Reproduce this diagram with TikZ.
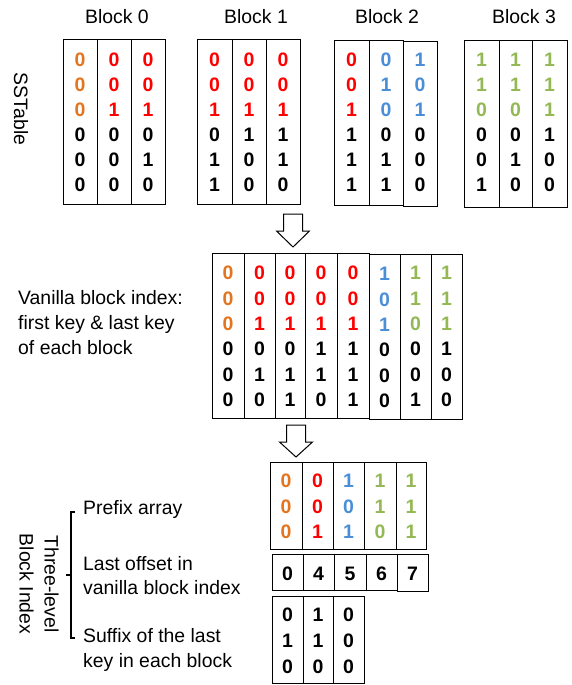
\documentclass[tikz,border=0pt]{standalone}
\usepackage{fontspec}
\setmainfont{Liberation Sans}

\definecolor{keyorange}{RGB}{228,117,30}
\definecolor{keyred}{RGB}{255,0,0}
\definecolor{keyblue}{RGB}{74,142,216}
\definecolor{keygreen}{RGB}{148,184,84}

\tikzset{
  bit/.style={font=\fontsize{19.5}{20}\selectfont\bfseries, inner sep=0pt},
  lbl/.style={font=\fontsize{19.4}{25}\selectfont, inner sep=0pt},
  cell/.style={draw, line width=1pt},
  hollowarrow/.style={draw, fill=white, line width=1pt, line join=miter},
}

% one column of a key table: name, left, right, top, bottom, first row, bits
\newcommand{\bitcolumn}[7]{%
  \draw[cell] (#2,#4) rectangle (#3,#5);
  \foreach \clr/\val [count=\rw] in {#7}
    \node[bit, text=\clr] (#1r\rw) at ({(#2+#3)/2},{#6+(\rw-1)*\rowgap}) {\val};
}

\begin{document}
\begin{tikzpicture}[x=1pt,y=-1pt]
\useasboundingbox (0,0) rectangle (571,685);

        % SSTable
        \node[lbl] (title0) at (117,17) {Block 0};
        \node[lbl] (title1) at (256,17) {Block 1};
        \node[lbl] (title2) at (387,17) {Block 2};
        \node[lbl] (title3) at (524,17) {Block 3};
        \node[lbl,rotate=-90] (sstable) at (21,109) {SSTable};

        \def\rowgap{25}
        \bitcolumn{b0c1}{63}{97}{40}{204}{60}{keyorange/0,keyorange/0,keyorange/0,black/0,black/0,black/0}
        \bitcolumn{b0c2}{97}{131}{40}{204}{60}{keyred/0,keyred/0,keyred/1,black/0,black/0,black/0}
        \bitcolumn{b0c3}{131}{165}{40}{204}{60}{keyred/0,keyred/0,keyred/1,black/0,black/1,black/0}

        \bitcolumn{b1c1}{197}{232}{40}{204}{60}{keyred/0,keyred/0,keyred/1,black/0,black/1,black/1}
        \bitcolumn{b1c2}{232}{266}{40}{204}{60}{keyred/0,keyred/0,keyred/1,black/1,black/0,black/0}
        \bitcolumn{b1c3}{266}{300}{40}{204}{60}{keyred/0,keyred/0,keyred/1,black/1,black/1,black/0}

        \bitcolumn{b2c1}{334}{369}{41}{205}{60}{keyred/0,keyred/0,keyred/1,black/1,black/1,black/1}
        \bitcolumn{b2c2}{369}{403}{41}{205}{60}{keyblue/0,keyblue/1,keyblue/0,black/0,black/1,black/1}
        \bitcolumn{b2c3}{403}{437}{42}{206}{60}{keyblue/1,keyblue/0,keyblue/1,black/0,black/0,black/0}

        \bitcolumn{b3c1}{464}{499}{41}{207}{60}{keygreen/1,keygreen/1,keygreen/0,black/0,black/0,black/1}
        \bitcolumn{b3c2}{499}{532}{41}{207}{60}{keygreen/1,keygreen/1,keygreen/0,black/0,black/1,black/0}
        \bitcolumn{b3c3}{532}{567}{41}{207}{60}{keygreen/1,keygreen/1,keygreen/1,black/1,black/0,black/0}

        % arrow to vanilla index
        \coordinate (arrowa) at (293,214);
        \draw[hollowarrow] (arrowa) ++(-9.5,0) -- ++(0,17) -- ++(-7,0) -- ++(16.5,16)
            -- ++(16.5,-16) -- ++(-7,0) -- ++(0,-17) -- cycle;

        % vanilla block index
        \node[lbl,anchor=west,align=left] (vanilla) at (18,323)
            {Vanilla block index:\\first key \& last key\\of each block};

        \def\rowgap{25.4}
        \bitcolumn{v1}{212}{244}{253}{418}{273}{keyorange/0,keyorange/0,keyorange/0,black/0,black/0,black/0}
        \bitcolumn{v2}{244}{275}{253}{418}{273}{keyred/0,keyred/0,keyred/1,black/0,black/1,black/0}
        \bitcolumn{v3}{275}{305}{253}{418}{273}{keyred/0,keyred/0,keyred/1,black/0,black/1,black/1}
        \bitcolumn{v4}{305}{337}{253}{418}{273}{keyred/0,keyred/0,keyred/1,black/1,black/1,black/0}
        \bitcolumn{v5}{337}{369}{253}{418}{273}{keyred/0,keyred/0,keyred/1,black/1,black/1,black/1}
        \bitcolumn{v6}{369}{400}{254}{419}{274}{keyblue/1,keyblue/0,keyblue/1,black/0,black/0,black/0}
        \bitcolumn{v7}{400}{431}{254}{419}{273}{keygreen/1,keygreen/1,keygreen/0,black/0,black/0,black/1}
        \bitcolumn{v8}{431}{462}{254}{419}{273}{keygreen/1,keygreen/1,keygreen/1,black/1,black/0,black/0}

        % arrow to three-level index
        \coordinate (arrowb) at (296,425);
        \draw[hollowarrow] (arrowb) ++(-9.5,0) -- ++(0,17) -- ++(-7,0) -- ++(16.5,15)
            -- ++(16.5,-15) -- ++(-7,0) -- ++(0,-17) -- cycle;

        % three-level block index
        \node[lbl,rotate=-90,align=center] (threelevel) at (39,584) {Three-level\\Block Index};
        \coordinate (bracetop) at (71,512);
        \coordinate (bracebot) at (71,638);
        \draw[line width=1.6pt] ([xshift=4pt]bracetop) -- (bracetop) -- (bracebot) -- ([xshift=4pt]bracebot);
        \draw[line width=1.6pt] (71,575) -- (66,575);

        \node[lbl,anchor=west] (prefixlbl) at (83,509) {Prefix array};
        \node[lbl,anchor=west,align=left,font=\fontsize{19.4}{24}\selectfont] (offsetlbl) at (83,576)
            {Last offset in\\vanilla block index};
        \node[lbl,anchor=west,align=left] (suffixlbl) at (83,650)
            {Suffix of the last\\key in each block};

        \def\rowgap{25.5}
        \bitcolumn{p1}{270}{302}{462}{549}{481}{keyorange/0,keyorange/0,keyorange/0}
        \bitcolumn{p2}{302}{333}{462}{549}{481}{keyred/0,keyred/0,keyred/1}
        \bitcolumn{p3}{333}{364}{462}{549}{481}{keyblue/1,keyblue/0,keyblue/1}
        \bitcolumn{p4}{364}{396}{462}{549}{481}{keygreen/1,keygreen/1,keygreen/0}
        \bitcolumn{p5}{396}{426}{462}{549}{481}{keygreen/1,keygreen/1,keygreen/1}

        \bitcolumn{o1}{272}{303}{554}{590}{574}{black/0}
        \bitcolumn{o2}{303}{334}{554}{590}{574}{black/4}
        \bitcolumn{o3}{334}{366}{554}{590}{574}{black/5}
        \bitcolumn{o4}{366}{397}{554}{590}{574}{black/6}
        \bitcolumn{o5}{397}{428}{554}{591}{574}{black/7}

        \def\rowgap{26}
        \bitcolumn{s1}{272}{303}{596}{683}{615}{black/0,black/1,black/0}
        \bitcolumn{s2}{303}{333}{596}{683}{615}{black/1,black/1,black/0}
        \bitcolumn{s3}{333}{364}{596}{683}{615}{black/0,black/0,black/0}

\end{tikzpicture}
\end{document}
